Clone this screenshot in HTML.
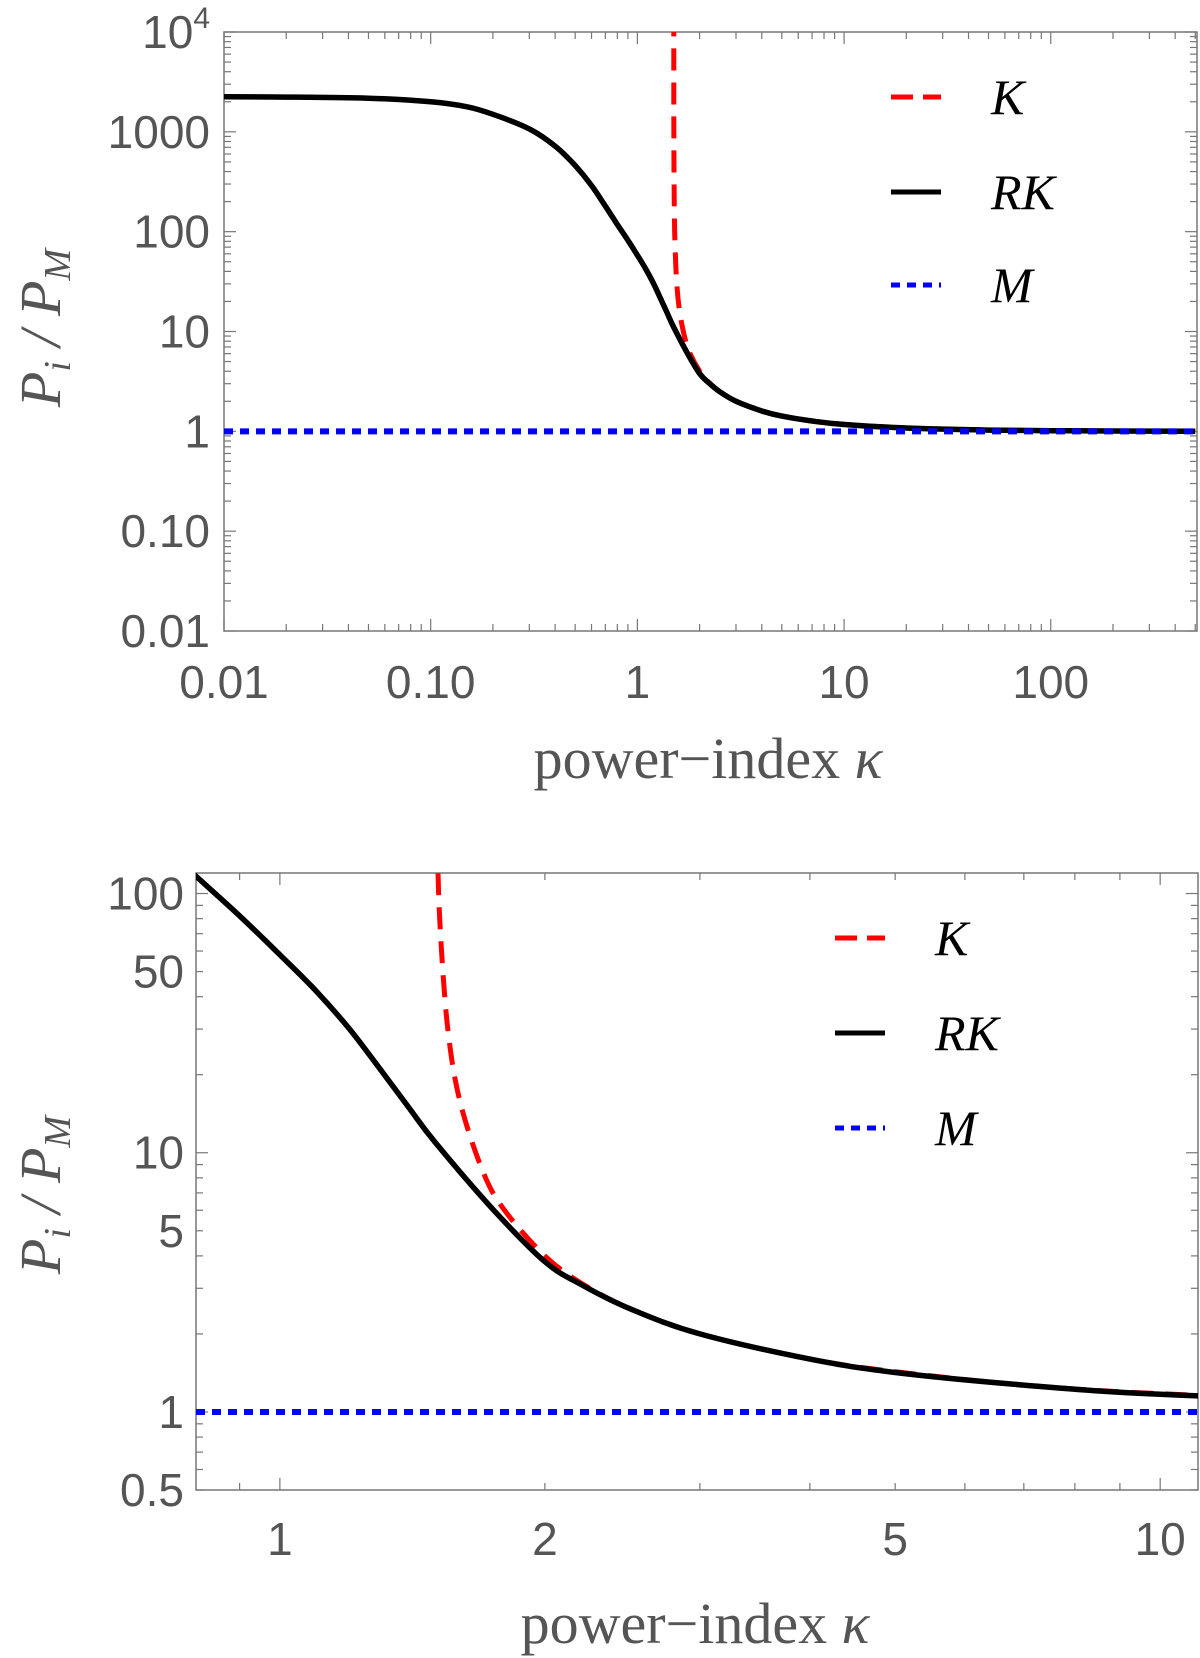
<!DOCTYPE html>
<html><head><meta charset="utf-8"><style>
body{margin:0;background:#fff;width:1200px;height:1658px;overflow:hidden}
svg{display:block}
.tl{font-family:"Liberation Sans",sans-serif;font-size:46px;fill:#555}
.ti{font-family:"Liberation Serif",serif;font-size:58px;fill:#555}
.lg{font-family:"Liberation Serif",serif;font-style:italic;font-size:50px;fill:#000}
</style></head><body>
<svg id="chart" width="1200" height="1658"></svg>
<script>
const NS="http://www.w3.org/2000/svg";
const rkKappa=[0.01,0.02,0.05,0.1,0.15,0.2,0.3,0.4,0.5,0.6,0.7,0.8,0.9,1,1.1,1.2,1.3,1.4,1.5,1.75,2,2.2,2.5,3,4,5,7,10,20,50,100,200,500];
const rkValues=[2250,2230,2170,2000,1780,1500,1070,720,460,290,180,118,82,58,42,30,21,15,11,6.0,3.8,3.1,2.5,2.0,1.6,1.42,1.27,1.17,1.08,1.03,1.015,1.008,1.003];
const kKappa=[1.5001,1.5005,1.502,1.505,1.51,1.52,1.55,1.6,1.7,1.8,2,2.2,2.5,3,4,5,7,10,20,50,100,200,500];
const kValues=[15000,3000,750,301,151,76,31,16,8.5,6,4,3.14,2.5,2,1.6,1.43,1.27,1.176,1.081,1.031,1.015,1.0075,1.003];
const mValue=1;
const topXTicks=[0.01,0.1,1,10,100];const topXLabels=["0.01","0.10","1","10","100"];
const topYTicks=[0.01,0.1,1,10,100,1000];const topYLabels=["0.01","0.10","1","10","100","1000"];
const botXTicks=[1,2,5,10];const botXLabels=["1","2","5","10"];
const botYTicks=[0.5,1,5,10,50,100];const botYLabels=["0.5","1","5","10","50","100"];
const svg=document.getElementById('chart');
function el(t,a,p){const e=document.createElementNS(NS,t);for(const k in a)e.setAttribute(k,a[k]);(p||svg).appendChild(e);return e;}
function smooth(pts){let d='M'+pts[0][0].toFixed(1)+','+pts[0][1].toFixed(1);
  for(let i=0;i<pts.length-1;i++){const p0=pts[Math.max(0,i-1)],p1=pts[i],p2=pts[i+1],p3=pts[Math.min(pts.length-1,i+2)];
    const c1=[p1[0]+(p2[0]-p0[0])/6,p1[1]+(p2[1]-p0[1])/6],c2=[p2[0]-(p3[0]-p1[0])/6,p2[1]-(p3[1]-p1[1])/6];
    d+='C'+c1.map(v=>v.toFixed(1)).join(',')+' '+c2.map(v=>v.toFixed(1)).join(',')+' '+p2[0].toFixed(1)+','+p2[1].toFixed(1);}
  return d;}
function panel(cfg,id){
  const g=el('g',{});
  
  
  const sx=v=>cfg.x0+(Math.log10(v)-Math.log10(cfg.xmin))/(Math.log10(cfg.xmax)-Math.log10(cfg.xmin))*(cfg.x1-cfg.x0);
  const sy=v=>cfg.y1-(Math.log10(v)-Math.log10(cfg.ymin))/(Math.log10(cfg.ymax)-Math.log10(cfg.ymin))*(cfg.y1-cfg.y0);
  const fr=el('rect',{x:cfg.x0,y:cfg.y0,width:cfg.x1-cfg.x0,height:cfg.y1-cfg.y0,fill:'none',stroke:'#777','stroke-width':1.5},g);
  
  for(let d=-3;d<=4;d++)for(let m=1;m<=9;m++){const v=m*Math.pow(10,d);
    if(v>=cfg.xmin&&v<=cfg.xmax){const x=sx(v),L=m==1?12:7;
      el('line',{x1:x,x2:x,y1:cfg.y1,y2:cfg.y1-L,stroke:'#777','stroke-width':1.2},g);
      el('line',{x1:x,x2:x,y1:cfg.y0,y2:cfg.y0+L,stroke:'#777','stroke-width':1.2},g);}
    if(v>=cfg.ymin&&v<=cfg.ymax){const y=sy(v),L=m==1?12:7;
      el('line',{x1:cfg.x0,x2:cfg.x0+L,y1:y,y2:y,stroke:'#777','stroke-width':1.2},g);
      el('line',{x1:cfg.x1,x2:cfg.x1-L,y1:y,y2:y,stroke:'#777','stroke-width':1.2},g);}
  }
  cfg.xt.forEach((v,i)=>{const t=el('text',{x:sx(v),y:cfg.xly,'text-anchor':'middle',class:'tl'},g);t.textContent=cfg.xl[i];
    });
  cfg.yt.forEach((v,i)=>{const t=el('text',{x:cfg.ylx,y:sy(v)+16,'text-anchor':'end',class:'tl'},g);t.textContent=cfg.yl[i];
    });
  if(cfg.top104){const t=el('text',{x:cfg.ylx,y:sy(1e4)+16,'text-anchor':'end',class:'tl'},g);t.innerHTML='10<tspan dy="-20" font-size="30">4</tspan>';
    }
  const cp=el('clipPath',{id:'c'+id},g);el('rect',{x:cfg.x0,y:cfg.y0,width:cfg.x1-cfg.x0,height:cfg.y1-cfg.y0},cp);
  const pg=el('g',{'clip-path':'url(#c'+id+')'},g);
  const path=(xs,ys)=>smooth(xs.map((x,i)=>[sx(x),sy(ys[i])]));
  const k=el('path',{d:path(kKappa,kValues),fill:'none',stroke:'#f00','stroke-width':5,'stroke-dasharray':'22 12'},pg);
  
  const rk=el('path',{d:path(rkKappa,rkValues),fill:'none',stroke:'#000','stroke-width':5.5,'stroke-linejoin':'round'},pg);
  
  const m=el('line',{x1:cfg.x0,x2:cfg.x1,y1:sy(mValue),y2:sy(mValue),stroke:'#00f','stroke-width':6,'stroke-dasharray':'9 7'},pg);
  
  const lg=el('g',{},g);
  [['K','#f00','22 10'],['RK','#000',''],['M','#00f','9 7']].forEach((e,i)=>{const y=cfg.lgy[i];
    const ln=el('line',{x1:cfg.lgx,x2:cfg.lgx+50,y1:y,y2:y,stroke:e[1],'stroke-width':5,'stroke-dasharray':e[2]},lg);
    
    const t=el('text',{x:cfg.lgx+100,y:y+17,class:'lg'},lg);t.textContent=e[0];
    });
  const xt=el('text',{x:cfg.xtx,y:cfg.xty,'text-anchor':'middle',class:'ti'},g);xt.innerHTML='power\u2212index <tspan font-style="italic">\u03BA</tspan>';
  
  const yt=el('text',{x:0,y:0,'text-anchor':'middle',class:'ti','font-style':'italic',transform:'translate('+cfg.ytx+','+cfg.yty+') rotate(-90)'},g);
  yt.innerHTML='P<tspan font-size="38" dy="10">i</tspan><tspan dy="-10"> / P</tspan><tspan font-size="38" dy="10">M</tspan>';
  
}
panel({x0:224,x1:1197,y0:32,y1:631,xmin:0.01,xmax:510,ymin:0.01,ymax:1e4,xt:topXTicks,xl:topXLabels,yt:topYTicks,yl:topYLabels,
  xly:698,ylx:210,top104:true,lgx:891,lgy:[97,192,285],xtx:708,xty:778,ytx:60,yty:328},'top');
panel({x0:196,x1:1198,y0:873,y1:1490,xmin:0.803,xmax:11.04,ymin:0.5,ymax:120,xt:botXTicks,xl:botXLabels,yt:botYTicks,yl:botYLabels,
  xly:1555,ylx:184,top104:false,lgx:835,lgy:[938,1033,1128],xtx:695,xty:1643,ytx:60,yty:1195},'bot');
</script></body></html>
